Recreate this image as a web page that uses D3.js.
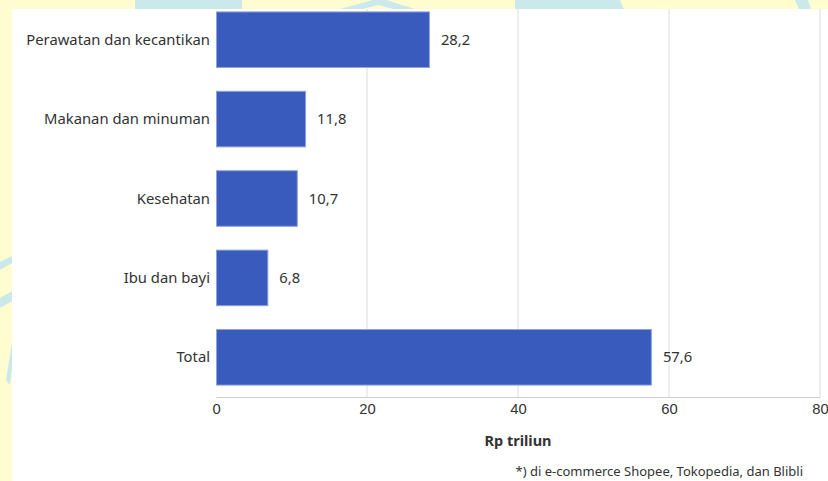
<!DOCTYPE html>
<html>
<head>
<meta charset="utf-8">
<script src="https://cdn.jsdelivr.net/npm/d3@7"></script>
<style>
  body { margin: 0; background: #fffdd0; }
  svg { display: block; font-family: "Noto Sans", "Open Sans", sans-serif; }
  .cat { font-size: 14.8px; fill: #333; }
  .tick text { font-size: 14.8px; fill: #333; }
</style>
</head>
<body>
<div id="chart"></div>
<script>
let categories = ["Perawatan dan kecantikan", "Makanan dan minuman", "Kesehatan", "Ibu dan bayi", "Total"];
let values = [28.2, 11.8, 10.7, 6.8, 57.6];
let xTicks = [0, 20, 40, 60, 80];
let xTitle = "Rp triliun";
let note = "*) di e-commerce Shopee, Tokopedia, dan Blibli";

let W = 828, H = 481;
let margin = {top: 0, right: 8, left: 216, bottom: 84};
let width = W - margin.left - margin.right;
let height = H - margin.top - margin.bottom;

let svg = d3.select("#chart").append("svg")
    .attr("width", W)
    .attr("height", H);

// yellow page + faint watermark bits in the margins
svg.append("rect").attr("width", W).attr("height", H).attr("fill", "#fffdd0");
let wm = svg.append("g").attr("fill", "#cbe9ea");
wm.append("path").attr("d", "M135,0 L242,0 L242,12 L135,12 Z");
wm.append("path").attr("d", "M515,0 L620,0 L625,12 L515,12 Z");
wm.append("path").attr("d", "M340,9 L380,-2 L415,9 L405,12 L378,5 L352,12 Z");
wm.append("path").attr("d", "M795,0 L808,0 L812,12 L800,12 Z");
wm.append("path").attr("d", "M0,262 L14,255 L14,262 L0,270 Z");
wm.append("path").attr("d", "M0,298 L14,290 L14,300 L0,308 Z");
wm.append("path").attr("d", "M6,380 L14,330 L14,350 L10,385 Z");

// white panel
svg.append("rect")
    .attr("x", 12).attr("y", 9)
    .attr("width", W - 12).attr("height", H - 9)
    .attr("fill", "#fff");

let g = svg.append("g")
    .attr("transform", "translate(" + margin.left + "," + margin.top + ")");

let x = d3.scaleLinear().domain([0, 80]).range([0, width]);
let y = d3.scaleBand().domain(categories).range([0, height]).paddingInner(0.3).paddingOuter(0.15);

// gridlines
g.selectAll(".grid")
    .data(xTicks.slice(1))
    .enter()
    .append("line")
    .attr("x1", d => x(d)).attr("x2", d => x(d))
    .attr("y1", 9).attr("y2", height)
    .attr("stroke", "#dcdcdc")
    .attr("stroke-width", 1);

// bars
g.selectAll(".bar")
    .data(values)
    .enter()
    .append("rect")
    .attr("x", x(0) + 0.5)
    .attr("y", (d, i) => y(categories[i]))
    .attr("width", d => x(d) - x(0))
    .attr("height", y.bandwidth())
    .attr("fill", "#3a5bbe")
    .attr("stroke", "#8fa2dc")
    .attr("stroke-width", 1);

// value labels
g.selectAll(".val")
    .data(values)
    .enter()
    .append("text")
    .attr("x", d => x(d) + 12)
    .attr("y", (d, i) => y(categories[i]) + y.bandwidth() / 2)
    .attr("dy", "0.35em")
    .attr("class", "cat")
    .text(d => d3.format(".1f")(d).replace(".", ","));

// category labels
g.selectAll(".lab")
    .data(categories)
    .enter()
    .append("text")
    .attr("x", -6)
    .attr("y", d => y(d) + y.bandwidth() / 2)
    .attr("dy", "0.35em")
    .attr("text-anchor", "end")
    .attr("class", "cat")
    .text(d => d);

// x axis
let xAxis = d3.axisBottom(x).tickValues(xTicks).tickSize(0).tickPadding(6);
let ax = g.append("g")
    .attr("transform", "translate(0," + height + ")")
    .call(xAxis);
ax.select(".domain").attr("stroke", "#cfcfcf");
ax.selectAll(".tick text").attr("font-family", null);

g.append("text")
    .attr("x", x(40))
    .attr("y", height + 49)
    .attr("text-anchor", "middle")
    .attr("font-size", 14.5)
    .attr("font-weight", "bold")
    .attr("fill", "#333")
    .text(xTitle);

svg.append("text")
    .attr("x", 803)
    .attr("y", 476)
    .attr("text-anchor", "end")
    .attr("font-size", 13)
    .attr("fill", "#333")
    .text(note);
</script>
</body>
</html>
